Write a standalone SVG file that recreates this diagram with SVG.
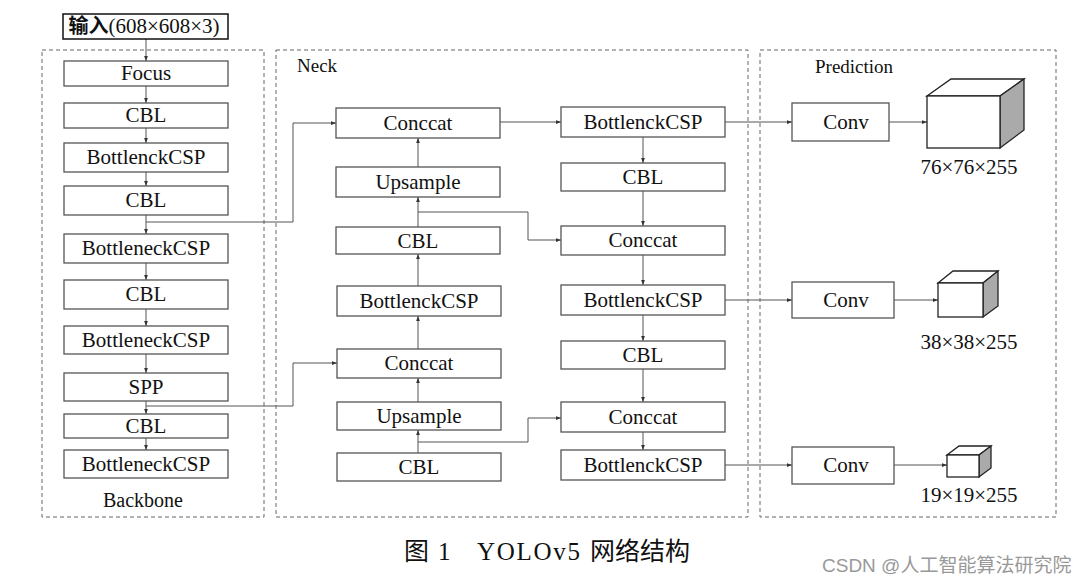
<svg xmlns="http://www.w3.org/2000/svg" width="1087" height="585" viewBox="0 0 1087 585">
<style>
.bg{fill:#fff}
.grp{fill:none;stroke:#666;stroke-width:1;stroke-dasharray:4 3}
.box{fill:#fff;stroke:#555;stroke-width:1.3}
.t{font-family:"Liberation Serif","Times New Roman",serif;font-size:21px;fill:#111;text-anchor:middle}
.lbl{font-family:"Liberation Serif","Times New Roman",serif;font-size:19px;fill:#111}
.ln{fill:none;stroke:#555;stroke-width:1}
.front{fill:#fff;stroke:#222;stroke-width:1.3}
.side{fill:#aaa;stroke:#222;stroke-width:1.3}
.top{fill:#fff;stroke:#222;stroke-width:1.3}
.cap{font-family:"Liberation Serif","Noto Sans CJK SC",serif;font-size:25px;fill:#111}
</style>
<defs>
<marker id="ah" viewBox="0 0 8 8" refX="8" refY="4" markerWidth="5" markerHeight="5" orient="auto" markerUnits="userSpaceOnUse">
<path d="M0,1 L8,4 L0,7 z" fill="#333"/>
</marker>
</defs>
<rect class="bg" x="0" y="0" width="1087" height="585"/>

<g id="groups">
<rect class="grp" x="42" y="50" width="222" height="467"/>
<rect class="grp" x="276" y="50" width="472" height="467"/>
<rect class="grp" x="760" y="50" width="296" height="467"/>
<text class="lbl" x="143" y="507" text-anchor="middle" style="font-size:20px">Backbone</text>
<text class="lbl" x="297" y="72">Neck</text>
<text class="lbl" x="815" y="73">Prediction</text>
</g>

<g id="connectors">
<line class="ln" x1="146" y1="39" x2="146" y2="61" marker-end="url(#ah)"/>
<line class="ln" x1="146" y1="86" x2="146" y2="103" marker-end="url(#ah)"/>
<line class="ln" x1="146" y1="128" x2="146" y2="143" marker-end="url(#ah)"/>
<line class="ln" x1="146" y1="172" x2="146" y2="186" marker-end="url(#ah)"/>
<line class="ln" x1="146" y1="215" x2="146" y2="234" marker-end="url(#ah)"/>
<line class="ln" x1="146" y1="263" x2="146" y2="280" marker-end="url(#ah)"/>
<line class="ln" x1="146" y1="309" x2="146" y2="326" marker-end="url(#ah)"/>
<line class="ln" x1="146" y1="354" x2="146" y2="373" marker-end="url(#ah)"/>
<line class="ln" x1="146" y1="401" x2="146" y2="414" marker-end="url(#ah)"/>
<line class="ln" x1="146" y1="438" x2="146" y2="450" marker-end="url(#ah)"/>
<polyline class="ln" points="146,222 293,222 293,123 336,123" marker-end="url(#ah)"/>
<polyline class="ln" points="146,406 293,406 293,363 337,363" marker-end="url(#ah)"/>
<line class="ln" x1="418" y1="453" x2="418" y2="430" marker-end="url(#ah)"/>
<line class="ln" x1="418" y1="402" x2="418" y2="378" marker-end="url(#ah)"/>
<line class="ln" x1="418" y1="349" x2="418" y2="316" marker-end="url(#ah)"/>
<line class="ln" x1="418" y1="286" x2="418" y2="254" marker-end="url(#ah)"/>
<line class="ln" x1="418" y1="227" x2="418" y2="197" marker-end="url(#ah)"/>
<line class="ln" x1="418" y1="167" x2="418" y2="138" marker-end="url(#ah)"/>
<polyline class="ln" points="418,212 528,212 528,240 561,240" marker-end="url(#ah)"/>
<polyline class="ln" points="418,442 528,442 528,418 561,418" marker-end="url(#ah)"/>
<line class="ln" x1="500" y1="122" x2="561" y2="122" marker-end="url(#ah)"/>
<line class="ln" x1="643" y1="137" x2="643" y2="163" marker-end="url(#ah)"/>
<line class="ln" x1="643" y1="191" x2="643" y2="226" marker-end="url(#ah)"/>
<line class="ln" x1="643" y1="255" x2="643" y2="285" marker-end="url(#ah)"/>
<line class="ln" x1="643" y1="315" x2="643" y2="341" marker-end="url(#ah)"/>
<line class="ln" x1="643" y1="369" x2="643" y2="402" marker-end="url(#ah)"/>
<line class="ln" x1="643" y1="432" x2="643" y2="450" marker-end="url(#ah)"/>
<line class="ln" x1="725" y1="122" x2="792" y2="122" marker-end="url(#ah)"/>
<line class="ln" x1="725" y1="300" x2="792" y2="300" marker-end="url(#ah)"/>
<line class="ln" x1="725" y1="465" x2="792" y2="465" marker-end="url(#ah)"/>
<line class="ln" x1="889" y1="122" x2="927" y2="122" marker-end="url(#ah)"/>
<line class="ln" x1="894" y1="300" x2="938" y2="300" marker-end="url(#ah)"/>
<line class="ln" x1="894" y1="465" x2="947" y2="465" marker-end="url(#ah)"/>
</g>

<g id="input">
<rect x="63" y="14" width="165" height="25" fill="#fff" stroke="#111" stroke-width="1.5"/>
<text class="t" x="144" y="33"><tspan font-family="'Noto Sans CJK SC',sans-serif" font-weight="bold" font-size="20">输入</tspan>(608×608×3)</text>
</g>

<g id="bb-focus"><rect class="box" x="64" y="61" width="164" height="25"/><text class="t" x="146" y="80">Focus</text></g>
<g id="bb-cbl1"><rect class="box" x="64" y="103" width="164" height="25"/><text class="t" x="146" y="122">CBL</text></g>
<g id="bb-csp1"><rect class="box" x="64" y="143" width="164" height="29"/><text class="t" x="146" y="164">BottlenckCSP</text></g>
<g id="bb-cbl2"><rect class="box" x="64" y="186" width="164" height="29"/><text class="t" x="146" y="207">CBL</text></g>
<g id="bb-csp2"><rect class="box" x="64" y="234" width="164" height="29"/><text class="t" x="146" y="255">BottleneckCSP</text></g>
<g id="bb-cbl3"><rect class="box" x="64" y="280" width="164" height="29"/><text class="t" x="146" y="301">CBL</text></g>
<g id="bb-csp3"><rect class="box" x="64" y="326" width="164" height="28"/><text class="t" x="146" y="347">BottleneckCSP</text></g>
<g id="bb-spp"><rect class="box" x="64" y="373" width="164" height="28"/><text class="t" x="146" y="394">SPP</text></g>
<g id="bb-cbl4"><rect class="box" x="64" y="414" width="164" height="24"/><text class="t" x="146" y="433">CBL</text></g>
<g id="bb-csp4"><rect class="box" x="64" y="450" width="164" height="28"/><text class="t" x="146" y="471">BottleneckCSP</text></g>

<g id="nk-concat1"><rect class="box" x="336" y="108" width="164" height="30"/><text class="t" x="418" y="130">Conccat</text></g>
<g id="nk-up1"><rect class="box" x="336" y="167" width="164" height="30"/><text class="t" x="418" y="189">Upsample</text></g>
<g id="nk-cbl1"><rect class="box" x="336" y="227" width="164" height="27"/><text class="t" x="418" y="248">CBL</text></g>
<g id="nk-csp1"><rect class="box" x="337" y="286" width="164" height="30"/><text class="t" x="419" y="308">BottlenckCSP</text></g>
<g id="nk-concat2"><rect class="box" x="337" y="349" width="164" height="29"/><text class="t" x="419" y="370">Conccat</text></g>
<g id="nk-up2"><rect class="box" x="337" y="402" width="164" height="28"/><text class="t" x="419" y="423">Upsample</text></g>
<g id="nk-cbl2"><rect class="box" x="337" y="453" width="164" height="28"/><text class="t" x="419" y="474">CBL</text></g>

<g id="nk-csp2"><rect class="box" x="561" y="107" width="164" height="30"/><text class="t" x="643" y="129">BottlenckCSP</text></g>
<g id="nk-cbl3"><rect class="box" x="561" y="163" width="164" height="28"/><text class="t" x="643" y="184">CBL</text></g>
<g id="nk-concat3"><rect class="box" x="561" y="226" width="164" height="29"/><text class="t" x="643" y="247">Conccat</text></g>
<g id="nk-csp3"><rect class="box" x="561" y="285" width="164" height="30"/><text class="t" x="643" y="307">BottlenckCSP</text></g>
<g id="nk-cbl4"><rect class="box" x="561" y="341" width="164" height="28"/><text class="t" x="643" y="362">CBL</text></g>
<g id="nk-concat4"><rect class="box" x="561" y="402" width="164" height="30"/><text class="t" x="643" y="424">Conccat</text></g>
<g id="nk-csp4"><rect class="box" x="561" y="450" width="164" height="30"/><text class="t" x="643" y="472">BottlenckCSP</text></g>

<g id="pr-conv1"><rect class="box" x="792" y="103" width="97" height="38"/><text class="t" x="846" y="129">Conv</text></g>
<g id="pr-conv2"><rect class="box" x="792" y="282" width="102" height="36"/><text class="t" x="846" y="307">Conv</text></g>
<g id="pr-conv3"><rect class="box" x="792" y="447" width="102" height="37"/><text class="t" x="846" y="472">Conv</text></g>

<g id="cube1">
<polygon class="top" points="927,96 951,79 1024,79 1000,96"/>
<polygon class="side" points="1000,96 1024,79 1024,130 1000,148"/>
<rect class="front" x="927" y="96" width="73" height="52"/>
<text class="t" x="969" y="174">76×76×255</text>
</g>
<g id="cube2">
<polygon class="top" points="938,283 953,271 998,271 983,283"/>
<polygon class="side" points="983,283 998,271 998,306 983,317"/>
<rect class="front" x="938" y="283" width="45" height="34"/>
<text class="t" x="969" y="349">38×38×255</text>
</g>
<g id="cube3">
<polygon class="top" points="947,455 959,446 991,446 979,455"/>
<polygon class="side" points="979,455 991,446 991,468 979,477"/>
<rect class="front" x="947" y="455" width="32" height="22"/>
<text class="t" x="969" y="502">19×19×255</text>
</g>

<g id="caption">
<text class="cap" x="404" y="560">图</text>
<text class="cap" x="438" y="560">1</text>
<text class="cap" x="477" y="560" textLength="103">YOLOv5</text>
<text class="cap" x="590" y="560">网络结构</text>
</g>
<g id="watermark">
<text x="822" y="572" style="font-family:'Liberation Sans','Noto Sans CJK SC',sans-serif;font-size:19px;fill:#999">CSDN @人工智能算法研究院</text>
</g>
</svg>
